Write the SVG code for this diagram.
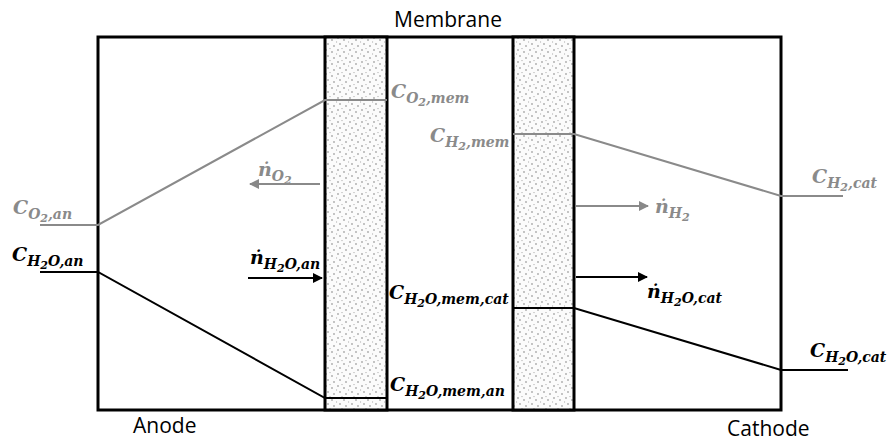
<svg xmlns="http://www.w3.org/2000/svg" width="888" height="441" viewBox="0 0 888 441">
<defs>
<pattern id="dots" width="12" height="12" patternUnits="userSpaceOnUse">
<rect width="12" height="12" fill="#fbfbfb"/>
<circle cx="2" cy="2" r="0.9" fill="#aaa"/>
<circle cx="8" cy="4" r="0.9" fill="#aaa"/>
<circle cx="4" cy="8" r="0.9" fill="#aaa"/>
<circle cx="10" cy="10" r="0.9" fill="#aaa"/>
<circle cx="6" cy="0.5" r="0.7" fill="#bbb"/>
<circle cx="0.5" cy="6" r="0.7" fill="#bbb"/>
</pattern>
<marker id="ab" markerWidth="10" markerHeight="10" refX="9" refY="5" orient="auto" markerUnits="userSpaceOnUse">
<path d="M0,0 L10,5 L0,10 z" fill="#000"/>
</marker>
<marker id="ag" markerWidth="10" markerHeight="10" refX="9" refY="5" orient="auto" markerUnits="userSpaceOnUse">
<path d="M0,0 L10,5 L0,10 z" fill="#888"/>
</marker>
</defs>
<style>
.m{font-family:"DejaVu Serif","Liberation Serif",serif;font-style:italic;font-weight:bold;font-size:19px}
.g{fill:#8a8a8a}
.k{fill:#000}
.s{font-size:14px}
.ss{font-size:11px}
.lbl{font-family:"Open Sans","Liberation Sans",sans-serif;font-size:21px;fill:#000}
.box{fill:none;stroke:#000;stroke-width:3}
.mem{fill:url(#dots);stroke:#000;stroke-width:3}
.gl{fill:none;stroke:#8a8a8a;stroke-width:2}
.bl{fill:none;stroke:#000;stroke-width:2}
</style>
<g id="cell">
<rect class="box" x="98" y="37" width="683" height="373"/>
</g>
<g id="membrane-left">
<rect class="mem" x="325" y="37" width="62" height="373"/>
</g>
<g id="membrane-right">
<rect class="mem" x="513" y="37" width="61" height="373"/>
</g>
<g id="connectors">
<polyline class="gl" points="40,225 98,225 325,100 387,100"/>
<polyline class="bl" points="40,272 98,272 325,398 387,398"/>
<polyline class="gl" points="513,134 574,134 781,196 843,196"/>
<polyline class="bl" points="513,308 574,308 781,370 848,370"/>
<line class="gl" x1="320" y1="184" x2="250" y2="184" marker-end="url(#ag)"/>
<line class="bl" x1="248" y1="278" x2="322" y2="278" marker-end="url(#ab)"/>
<line class="gl" x1="576" y1="206" x2="648" y2="206" marker-end="url(#ag)"/>
<line class="bl" x1="576" y1="277" x2="647" y2="277" marker-end="url(#ab)"/>
</g>
<g id="labels">
<text class="lbl" x="448" y="27" text-anchor="middle">Membrane</text>
<text class="lbl" x="133" y="433">Anode</text>
<text class="lbl" x="727" y="436">Cathode</text>
<text class="m g" x="13" y="214">C<tspan class="s" dy="5">O</tspan><tspan class="ss" dy="3">2</tspan><tspan class="s" dy="-3">,an</tspan></text>
<text class="m k" x="12" y="261">C<tspan class="s" dy="5">H</tspan><tspan class="ss" dy="3">2</tspan><tspan class="s" dy="-3">O,an</tspan></text>
<text class="m g" x="391" y="98">C<tspan class="s" dy="5">O</tspan><tspan class="ss" dy="3">2</tspan><tspan class="s" dy="-3">,mem</tspan></text>
<text class="m g" x="430" y="142">C<tspan class="s" dy="5">H</tspan><tspan class="ss" dy="3">2</tspan><tspan class="s" dy="-3">,mem</tspan></text>
<text class="m g" x="258" y="176">ṅ<tspan class="s" dy="5">O</tspan><tspan class="ss" dy="3">2</tspan></text>
<text class="m k" x="250" y="264">ṅ<tspan class="s" dy="5">H</tspan><tspan class="ss" dy="3">2</tspan><tspan class="s" dy="-3">O,an</tspan></text>
<text class="m k" x="389" y="299">C<tspan class="s" dy="5">H</tspan><tspan class="ss" dy="3">2</tspan><tspan class="s" dy="-3">O,mem,cat</tspan></text>
<text class="m k" x="390" y="391">C<tspan class="s" dy="5">H</tspan><tspan class="ss" dy="3">2</tspan><tspan class="s" dy="-3">O,mem,an</tspan></text>
<text class="m g" x="655" y="213">ṅ<tspan class="s" dy="5">H</tspan><tspan class="ss" dy="3">2</tspan></text>
<text class="m k" x="647" y="298">ṅ<tspan class="s" dy="5">H</tspan><tspan class="ss" dy="3">2</tspan><tspan class="s" dy="-3">O,cat</tspan></text>
<text class="m g" x="812" y="183">C<tspan class="s" dy="5">H</tspan><tspan class="ss" dy="3">2</tspan><tspan class="s" dy="-3">,cat</tspan></text>
<text class="m k" x="810" y="357">C<tspan class="s" dy="5">H</tspan><tspan class="ss" dy="3">2</tspan><tspan class="s" dy="-3">O,cat</tspan></text>
</g>
</svg>
